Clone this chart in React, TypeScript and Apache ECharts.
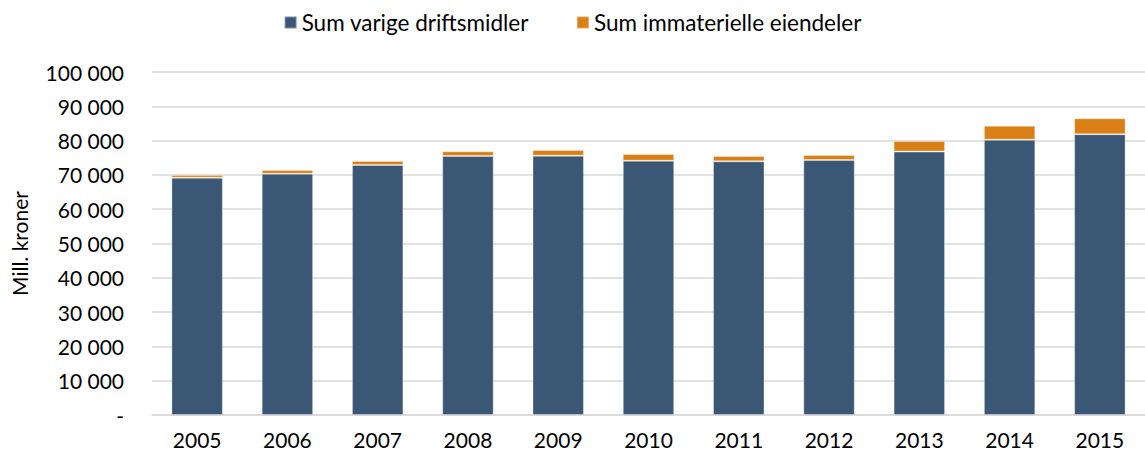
import React, { useEffect, useRef } from "react";
import * as echarts from "echarts";

const years = ["2005", "2006", "2007", "2008", "2009", "2010", "2011", "2012", "2013", "2014", "2015"];
const varigeDriftsmidler = [69200, 70350, 72900, 75500, 75600, 74150, 73950, 74350, 76800, 80250, 81850];
const immaterielleEiendeler = [800, 1080, 1150, 1380, 1660, 1950, 1560, 1450, 3100, 4100, 4650];
const seriesNames = ["Sum varige driftsmidler", "Sum immaterielle eiendeler"];
const colors = ["#3A5775", "#D97F16"];

const fmt = (v: number) => (v === 0 ? "-" : String(v).replace(/\B(?=(\d{3})+(?!\d))/g, " "));

export default function App() {
  const ref = useRef<HTMLDivElement>(null);
  useEffect(() => {
    if (!ref.current) return;
    const chart = echarts.init(ref.current, null, { renderer: "svg" });
    const font = "Lato, 'Open Sans', sans-serif";
    chart.setOption({
      animation: false,
      textStyle: { fontFamily: font },
      legend: {
        top: 6,
        left: "center",
        itemWidth: 12,
        itemHeight: 12,
        itemGap: 47,
        icon: "rect",
        textStyle: { fontSize: 22.5, color: "#000", fontFamily: font },
        data: seriesNames,
      },
      grid: { left: 152, top: 72, width: 999, bottom: 44 },
      xAxis: {
        type: "category",
        data: years,
        axisTick: { show: false },
        axisLine: { lineStyle: { color: "#D9D9D9", width: 1.5 } },
        axisLabel: { fontSize: 21, color: "#000", margin: 14, fontFamily: font },
      },
      yAxis: {
        type: "value",
        min: 0,
        max: 100000,
        interval: 10000,
        name: "Mill. kroner",
        nameLocation: "middle",
        nameRotate: 90,
        nameGap: 122,
        nameTextStyle: { fontSize: 21, color: "#000", fontFamily: font },
        axisLabel: { fontSize: 21, color: "#000", margin: 28, formatter: fmt, fontFamily: font },
        splitLine: { lineStyle: { color: "#D9D9D9", width: 1.5 } },
        axisLine: { show: false },
        axisTick: { show: false },
      },
      series: [
        {
          name: seriesNames[0],
          type: "bar",
          stack: "total",
          data: varigeDriftsmidler,
          barWidth: "57%",
          itemStyle: { color: colors[0], borderColor: "rgba(255,255,255,0.35)", borderWidth: 1 },
        },
        {
          name: seriesNames[1],
          type: "bar",
          stack: "total",
          data: immaterielleEiendeler,
          barWidth: "57%",
          itemStyle: { color: colors[1], borderColor: "rgba(255,255,255,0.35)", borderWidth: 1 },
        },
      ],
    });
    return () => chart.dispose();
  }, []);
  return (
    <div
      ref={ref}
      style={{ position: "fixed", left: 0, top: 0, width: 1145, height: 459, background: "#fff" }}
    />
  );
}
